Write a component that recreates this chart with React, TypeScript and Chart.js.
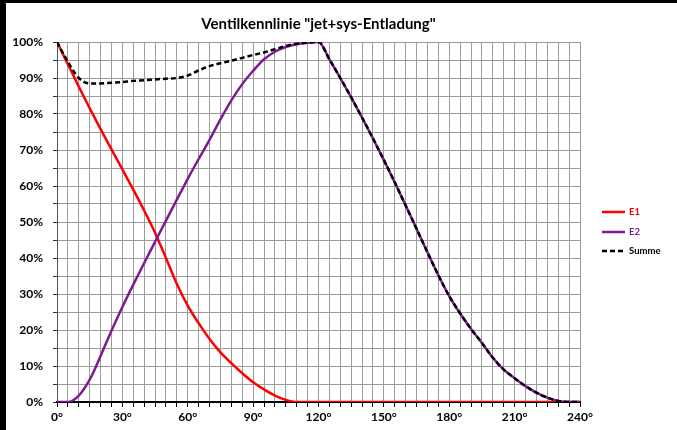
import React, { useEffect, useRef } from "react";
import { Chart, registerables } from "chart.js";

Chart.register(...registerables);

const chartTitle = 'Ventilkennlinie "jet+sys-Entladung"';

const angles = [
  0, 5, 10, 15, 20, 25, 30, 35, 40, 45,
  50, 55, 60, 65, 70, 75, 80, 85, 90, 95,
  100, 105, 110, 115, 120, 125, 130, 135, 140, 145,
  150, 155, 160, 165, 170, 175, 180, 185, 190, 195,
  200, 205, 210, 215, 220, 225, 230, 235, 240,
];

const e1Values = [
  100, 93.8, 87.6, 81.6, 75.8, 70.2, 64.6, 59, 53.2, 47,
  40, 32.8, 26.8, 21.9, 17.5, 13.8, 10.8, 8, 5.5, 3.5,
  1.8, 0.6, 0, 0, 0, 0, 0, 0, 0, 0,
  0, 0, 0, 0, 0, 0, 0, 0, 0, 0,
  0, 0, 0, 0, 0, 0, 0, 0, 0,
];

const e2Values = [
  0, 0, 1.8, 6.2, 12.8, 19.8, 26.4, 32.6, 38.6, 44.5,
  50.4, 56.2, 62, 67.5, 72.8, 78.5, 83.8, 88.3, 92, 95.2,
  97.3, 98.6, 99.4, 99.8, 100, 95.2, 90, 84.6, 79, 73.2,
  67.2, 61, 54.6, 48.1, 41.6, 35.2, 29.4, 24.6, 20.3, 16.4,
  12.3, 9, 6.6, 4.4, 2.6, 1.2, 0.3, 0, 0,
];

const summeValues = [
  100, 94.5, 90, 88.5, 88.5, 88.7, 88.9, 89.2, 89.4, 89.6,
  89.8, 90, 90.7, 92.1, 93.3, 94.1, 94.8, 95.6, 96.4, 97.1,
  98, 98.9, 99.5, 99.8, 100, 95.2, 90, 84.6, 79, 73.2,
  67.2, 61, 54.6, 48.1, 41.6, 35.2, 29.4, 24.6, 20.3, 16.4,
  12.3, 9, 6.6, 4.4, 2.6, 1.2, 0.3, 0, 0,
];

const seriesNames = ["E1", "E2", "Summe"];
const seriesColors = ["#ff0000", "#7e1a92", "#000000"];

const FONT = "Lato, 'Noto Sans', sans-serif";

const legendPlugin = {
  id: "customLegend",
  afterDraw(chart: any) {
    const ctx = chart.ctx;
    const ys = [209, 229, 248];
    ctx.save();
    seriesNames.forEach((name, i) => {
      const y = ys[i];
      ctx.beginPath();
      ctx.strokeStyle = seriesColors[i];
      ctx.lineWidth = 2.5;
      ctx.setLineDash(i === 2 ? [5, 3] : []);
      ctx.moveTo(596, y);
      ctx.lineTo(619, y);
      ctx.stroke();
      ctx.setLineDash([]);
      ctx.fillStyle = seriesColors[i];
      ctx.font = `bold 9.5px ${FONT}`;
      ctx.textBaseline = "middle";
      ctx.textAlign = "left";
      ctx.fillText(name, 623, y);
    });
    ctx.restore();
  },
};

export default function App() {
  const ref = useRef<HTMLCanvasElement | null>(null);

  useEffect(() => {
    document.body.style.margin = "0";
    if (!ref.current) return;
    const toPts = (vals: number[]) => angles.map((a, i) => ({ x: a, y: vals[i] }));
    const chart = new Chart(ref.current, {
      type: "line",
      data: {
        datasets: [
          {
            label: seriesNames[0],
            data: toPts(e1Values),
            borderColor: seriesColors[0],
            borderWidth: 2.5,
            pointRadius: 0,
            cubicInterpolationMode: "monotone",
            order: 3,
          },
          {
            label: seriesNames[1],
            data: toPts(e2Values),
            borderColor: seriesColors[1],
            borderWidth: 2.5,
            pointRadius: 0,
            cubicInterpolationMode: "monotone",
            order: 2,
          },
          {
            label: seriesNames[2],
            data: toPts(summeValues),
            borderColor: seriesColors[2],
            borderWidth: 2.5,
            borderDash: [5, 3],
            pointRadius: 0,
            cubicInterpolationMode: "monotone",
            order: 1,
          },
        ],
      },
      options: {
        animation: false,
        responsive: false,
        layout: { padding: { left: 0, right: 97, top: 0, bottom: 0 } },
        plugins: {
          legend: { display: false },
          tooltip: { enabled: false },
          title: {
            display: true,
            text: chartTitle,
            fullSize: false,
            color: "#000",
            font: { family: FONT, size: 15, weight: "bold" },
            padding: { top: 12, bottom: 9 },
          },
        },
        scales: {
          x: {
            type: "linear",
            min: 0,
            max: 240,
            afterFit: (s: any) => {
              s.height = 28;
            },
            ticks: {
              stepSize: 5,
              autoSkip: false,
              maxRotation: 0,
              padding: 3,
              color: "#000",
              font: { family: FONT, size: 12, weight: "bold" },
              callback: (v: any) => (Number(v) % 30 === 0 ? `${v}°` : ""),
            },
            grid: {
              color: "#9c9c9c",
              lineWidth: 1,
              tickLength: 5,
              tickColor: "#000",
            },
            border: { color: "#000", width: 2 },
          },
          y: {
            min: 0,
            max: 100,
            afterFit: (s: any) => {
              s.width = 51;
            },
            ticks: {
              stepSize: 5,
              autoSkip: false,
              padding: 10,
              color: "#000",
              font: { family: FONT, size: 12, weight: "bold" },
              callback: (v: any) => (Number(v) % 10 === 0 ? `${v}%` : ""),
            },
            grid: {
              color: "#9c9c9c",
              lineWidth: 1,
              tickLength: 4,
              tickColor: "#333",
            },
            border: { color: "#555", width: 1 },
          },
        },
      },
      plugins: [legendPlugin],
    });
    return () => chart.destroy();
  }, []);

  return (
    <div
      style={{
        width: 677,
        height: 430,
        boxSizing: "border-box",
        borderTop: "3px solid #000",
        borderLeft: "6px solid #000",
        background: "#fff",
        overflow: "hidden",
      }}
    >
      <canvas ref={ref} width={671} height={427} style={{ display: "block" }} />
    </div>
  );
}
